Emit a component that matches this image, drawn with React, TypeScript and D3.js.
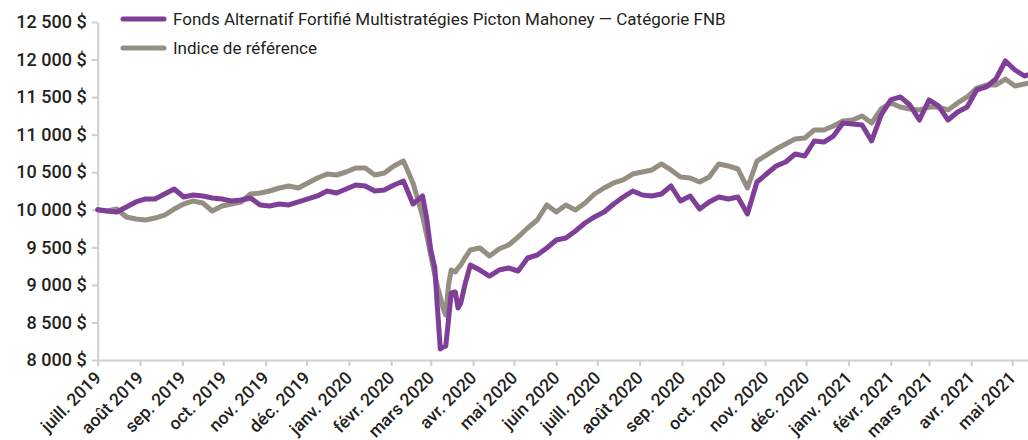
import React, { useEffect, useRef } from "react";
import * as d3 from "d3";

// weekly closes (extra points around the march 2020 crash)
const dates = [
  "2019-07-01", "2019-07-08", "2019-07-15", "2019-07-22", "2019-07-29", "2019-08-05", "2019-08-12",
  "2019-08-19", "2019-08-26", "2019-09-02", "2019-09-09", "2019-09-16", "2019-09-23", "2019-09-30",
  "2019-10-07", "2019-10-14", "2019-10-21", "2019-10-28", "2019-11-04", "2019-11-11", "2019-11-18",
  "2019-11-25", "2019-12-02", "2019-12-09", "2019-12-16", "2019-12-23", "2019-12-30", "2020-01-06",
  "2020-01-13", "2020-01-20", "2020-01-27", "2020-02-03", "2020-02-10", "2020-02-17", "2020-02-24",
  "2020-02-27", "2020-03-01", "2020-03-04", "2020-03-06", "2020-03-08", "2020-03-10", "2020-03-12",
  "2020-03-14", "2020-03-16", "2020-03-19", "2020-03-21", "2020-03-23", "2020-03-26", "2020-03-30",
  "2020-04-06", "2020-04-13", "2020-04-20", "2020-04-27", "2020-05-04", "2020-05-11", "2020-05-18",
  "2020-05-25", "2020-06-01", "2020-06-08", "2020-06-15", "2020-06-22", "2020-06-29", "2020-07-06",
  "2020-07-13", "2020-07-20", "2020-07-27", "2020-08-03", "2020-08-10", "2020-08-17", "2020-08-24",
  "2020-08-31", "2020-09-07", "2020-09-14", "2020-09-21", "2020-09-28", "2020-10-05", "2020-10-12",
  "2020-10-19", "2020-10-26", "2020-11-02", "2020-11-09", "2020-11-16", "2020-11-23", "2020-11-30",
  "2020-12-07", "2020-12-14", "2020-12-21", "2020-12-28", "2021-01-04", "2021-01-11", "2021-01-18",
  "2021-01-25", "2021-02-01", "2021-02-08", "2021-02-15", "2021-02-22", "2021-03-01", "2021-03-08",
  "2021-03-15", "2021-03-22", "2021-03-29", "2021-04-05", "2021-04-12", "2021-04-19", "2021-04-26",
  "2021-05-03", "2021-05-10", "2021-05-17",
];

const fundValues = [
  10000, 9984, 9970, 10037, 10104, 10144, 10144, 10210, 10277, 10170, 10197, 10184, 10157, 10144,
  10117, 10130, 10157, 10064, 10050, 10077, 10064, 10104, 10144, 10184, 10250, 10223, 10277, 10330,
  10317, 10250, 10263, 10330, 10383, 10077, 10184,
  9890, 9465, 9225, 8666, 8146, 8173, 8186, 8533, 8892, 8905, 8692, 8759, 8999, 9265,
  9198, 9118, 9198, 9225, 9185, 9358, 9398, 9491, 9598, 9624, 9717, 9824, 9904, 9970,
  10077, 10170, 10250, 10197, 10184, 10210, 10317, 10117, 10184, 10010, 10104, 10170, 10144, 10170,
  9944, 10370, 10476, 10583, 10636, 10743, 10716, 10916, 10902, 10982, 11155, 11142, 11129, 10916,
  11262, 11462, 11502, 11395, 11195, 11462, 11382, 11195, 11302, 11368, 11595, 11635, 11741, 11981,
  11861, 11781, 11821,
];

const indexValues = [
  10000, 9984, 10010, 9904, 9877, 9864, 9890, 9930, 10010, 10077, 10117, 10090, 9984, 10050,
  10077, 10104, 10210, 10223, 10250, 10290, 10317, 10290, 10357, 10423, 10476, 10463, 10503, 10556,
  10556, 10463, 10490, 10583, 10649, 10357, 9917,
  9664, 9398, 9132, 8972, 8839, 8692, 8599, 8999, 9198, 9172, 9225, 9265, 9358, 9465,
  9491, 9385, 9478, 9531, 9638, 9757, 9864, 10064, 9970, 10064, 9997, 10090, 10210, 10290,
  10357, 10397, 10476, 10503, 10530, 10610, 10530, 10436, 10423, 10370, 10436, 10610, 10583, 10543,
  10290, 10649, 10729, 10809, 10876, 10942, 10956, 11062, 11062, 11115, 11182, 11195, 11249, 11155,
  11342, 11422, 11368, 11342, 11329, 11368, 11368, 11329, 11422, 11502, 11621, 11661, 11661, 11741,
  11648, 11675, 11701,
];

const seriesNames = [
  "Fonds Alternatif Fortifié Multistratégies Picton Mahoney — Catégorie FNB",
  "Indice de référence",
];
const seriesColors = ["#7f3f98", "#948e83"];

const yTicks = [8000, 8500, 9000, 9500, 10000, 10500, 11000, 11500, 12000, 12500];
const monthLabels = ["janv.", "févr.", "mars", "avr.", "mai", "juin", "juill.", "août", "sep.", "oct.", "nov.", "déc."];

const W = 1028;
const H = 440;

export default function App() {
  const svgRef = useRef<SVGSVGElement>(null);

  useEffect(() => {
    const svg = d3.select(svgRef.current);
    svg.selectAll("*").remove();

    const parse = d3.timeParse("%Y-%m-%d");
    const xs = dates.map((d) => parse(d) as Date);

    const x = d3.scaleTime()
      .domain([new Date(2019, 6, 1), new Date(2021, 4, 13)])
      .range([97.7, 1028.6]);
    const y = d3.scaleLinear().domain([8000, 12500]).range([360, 22]);

    const fr = d3.formatLocale({ decimal: ",", thousands: " ", grouping: [3], currency: ["", " $"] });
    const fmt = fr.format(",");

    const yAxis = d3.axisLeft(y).tickValues(yTicks).tickSize(6).tickSizeOuter(0).tickPadding(5)
      .tickFormat((d) => fmt(d as number) + " $");
    const gy = svg.append("g").attr("transform", "translate(97.7,0)").call(yAxis);

    const months = d3.timeMonth.range(new Date(2019, 6, 1), new Date(2021, 4, 2));
    const xAxis = d3.axisBottom(x).tickValues(months).tickSize(6).tickSizeOuter(0)
      .tickFormat((d) => `${monthLabels[(d as Date).getMonth()]} ${(d as Date).getFullYear()}`);
    const gx = svg.append("g").attr("transform", "translate(0,360)").call(xAxis);
    gx.selectAll("text")
      .attr("text-anchor", "end")
      .attr("dy", null)
      .attr("y", null)
      .attr("transform", "translate(4,19) rotate(-45)");

    [gx, gy].forEach((g) => {
      g.selectAll("path, line").attr("stroke", "#cfcfcf").attr("stroke-width", 2);
      g.selectAll("text")
        .attr("fill", "#231f20")
        .attr("font-family", "Roboto, sans-serif")
        .attr("font-weight", 500)
        .attr("font-size", 18);
    });
    gx.selectAll("text").attr("font-size", 17.5);

    const line = d3.line<number>()
      .x((_, i) => x(xs[i]))
      .y((v) => y(v));

    [indexValues, fundValues].forEach((vals, k) => {
      svg.append("path")
        .datum(vals)
        .attr("fill", "none")
        .attr("stroke", seriesColors[1 - k])
        .attr("stroke-width", 5)
        .attr("stroke-linejoin", "round")
        .attr("stroke-linecap", "round")
        .attr("d", line);
    });

    const legend = svg.append("g");
    seriesNames.forEach((name, i) => {
      const ly = 19 + i * 29;
      legend.append("line")
        .attr("x1", 123).attr("x2", 164).attr("y1", ly).attr("y2", ly)
        .attr("stroke", seriesColors[i]).attr("stroke-width", 5).attr("stroke-linecap", "round");
      legend.append("text")
        .attr("x", 173).attr("y", ly).attr("dy", "0.35em")
        .attr("fill", "#231f20")
        .attr("font-family", "Roboto, sans-serif")
        .attr("font-size", 17)
        .text(name);
    });
  }, []);

  return (
    <div style={{ position: "fixed", left: 0, top: 0, width: W, height: H, background: "#fff" }}>
      <svg ref={svgRef} width={W} height={H} style={{ display: "block" }} />
    </div>
  );
}
